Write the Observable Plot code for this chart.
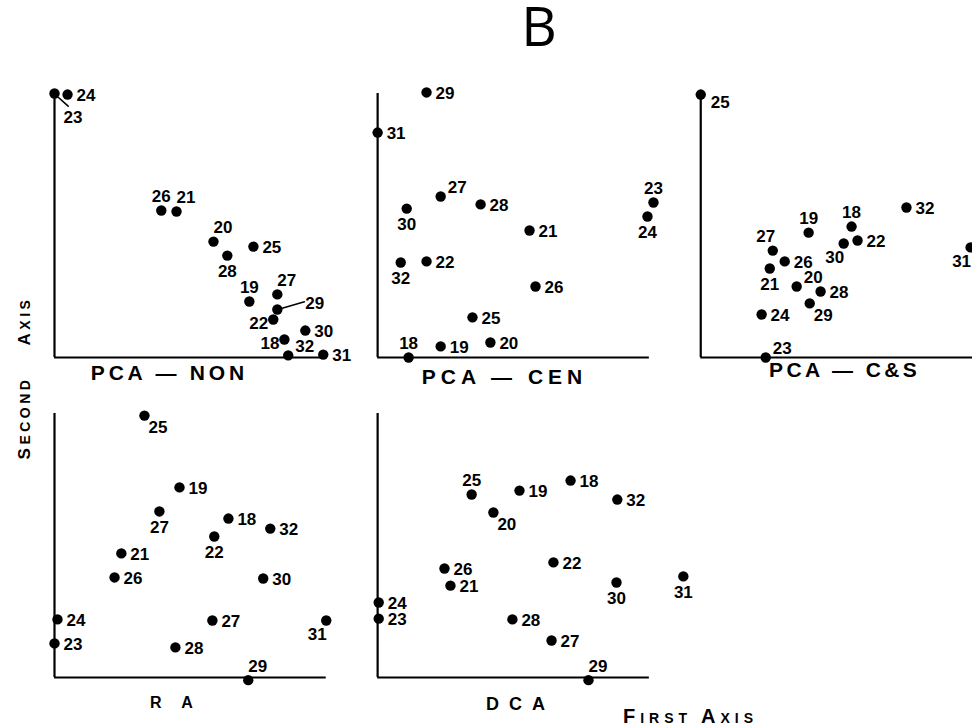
<!DOCTYPE html>
<html><head><meta charset="utf-8">
<script src="https://cdn.jsdelivr.net/npm/d3@7"></script>
<script src="https://cdn.jsdelivr.net/npm/@observablehq/plot@0.6"></script>
<style>
body{margin:0;background:#fff}
svg{display:block}
</style>
</head><body><div id="chart"></div>
<script>
// Panels
const panelNames = ["PCA \u2014 NON", "PCA \u2014 CEN", "PCA \u2014 C&S", "R A", "DCA"];
const panelCols = [0, 1, 2, 0, 1];
const panelRows = [0, 0, 0, 1, 1];
const panelYTop = [101, 100, 100, 100, 100];
const panelXEnd = [100, 100, 112, 100, 100];

// Sample scores [sample id, first axis, second axis] (axis origin = 0, panel extent = 100)
const pcaNon = [["23",0,100],["24",4.8,99.6],["26",39.3,55.7],["21",44.9,55.3],["20",58.5,43.9],["28",63.6,38.6],["25",73.2,42.0],["19",71.7,21.2],["27",82.0,23.9],["29",82.0,18.2],["22",80.5,14.4],["30",92.3,10.2],["18",84.6,6.8],["32",86.0,0.8],["31",98.9,1.1]];
const pcaCen = [["29",18.0,100.4],["31",0,85.2],["27",23.2,61.0],["30",10.7,56.4],["28",37.9,58.0],["21",55.9,48.1],["23",101.5,58.7],["24",99.3,53.4],["32",8.5,36.0],["22",18.0,36.4],["26",58.1,26.9],["25",34.9,15.2],["20",41.5,5.7],["19",23.2,4.2],["18",11.4,0]];
const pcaCS = [["25",0,99.6],["32",75.7,56.8],["18",55.5,49.6],["19",39.7,47.3],["22",57.7,44.3],["30",52.6,43.2],["31",99.3,41.7],["27",26.5,40.5],["26",30.9,36.4],["21",25.4,33.7],["20",35.3,26.9],["28",44.1,25.0],["29",40.1,20.5],["24",22.4,16.3],["23",23.9,0]];
const ra = [["25",33.1,99.2],["19",46.0,72.0],["27",38.6,62.9],["18",64.0,60.2],["32",79.4,56.4],["22",58.8,53.4],["21",24.6,47.0],["26",22.1,37.9],["30",76.8,37.5],["24",1.1,22.0],["27",58.1,21.6],["31",100,21.6],["23",0,12.9],["28",44.5,11.4],["29",71.3,-1]];
const dca = [["18",71.0,74.6],["19",52.2,70.8],["25",34.6,69.3],["32",88.2,67.4],["20",42.6,62.5],["22",64.7,43.6],["26",24.6,41.3],["31",112.5,38.3],["30",87.9,36.0],["21",26.8,34.8],["24",0.4,28.4],["23",0.4,22.3],["28",49.6,22.0],["27",64.0,14.0],["29",77.6,-1]];

// Label placement codes (one per sample, same order)
const pcaNonSide = ["bb","r","a","ar","ar","b","r","a","ar","far","l","r","l","ur","r"];
const pcaCenSide = ["r","r","ur","b","r","r","a","b","b","r","r","r","r","r","a"];
const pcaCSSide  = ["dr","r","a","a","r","bl","bl","al","r","b","ur","r","br","r","ur"];
const raSide     = ["br","r","b","r","r","b","r","r","r","r","r","bl","r","r","ar"];
const dcaSide    = ["r","r","a","r","br","r","r","b","b","r","r","r","r","r","ar"];

const allData = [pcaNon, pcaCen, pcaCS, ra, dca];
const allSides = [pcaNonSide, pcaCenSide, pcaCSSide, raSide, dcaSide];

const sideStyle = {
  r:  {textAnchor:"start",  dx: 9,  dy: 1},
  a:  {textAnchor:"middle", dx: 0,  dy:-14},
  b:  {textAnchor:"middle", dx: 0,  dy: 16},
  ar: {textAnchor:"start",  dx: 0,  dy:-14},
  ur: {textAnchor:"start",  dx: 7,  dy:-9},
  br: {textAnchor:"start",  dx: 4,  dy: 12},
  dr: {textAnchor:"start",  dx: 10, dy: 8},
  l:  {textAnchor:"end",    dx:-5,  dy: 4},
  bl: {textAnchor:"middle", dx:-9,  dy: 14},
  al: {textAnchor:"middle", dx:-7,  dy:-14},
  bb: {textAnchor:"start",  dx: 9,  dy: 24},
  far:{textAnchor:"start",  dx: 28, dy:-6}
};

const panels = panelNames.map((name, i) => ({name, col: panelCols[i], row: panelRows[i], yTop: panelYTop[i], xEnd: panelXEnd[i]}));
const points = allData.flatMap((arr, i) => arr.map(([id, x, y], j) => ({
  panel: panelNames[i], col: panelCols[i], row: panelRows[i], id, x, y, side: allSides[i][j]
})));

// Leader lines from a point to its label
const leaders = [
  {panel: 0, id: "23", length: 13, rotate: 132, dx: 4, dy: 4},
  {panel: 0, id: "29", length: 24, rotate: 74, dx: 4, dy: -1}
];
const titleStyle = [
  {dx:-21, dy:16, size:21, spacing:3.8},
  {dx:-9,  dy:20, size:21, spacing:5},
  {dx: 8,  dy:13, size:21, spacing:3.4},
  {dx:-15, dy:25, size:16, spacing:8},
  {dx: 7,  dy:27, size:18, spacing:10}
];

const lineShape = {draw(context, l) { context.moveTo(0, 0); context.lineTo(0, -l); }};

const marks = [
  Plot.ruleX(panels, {fx:"col", fy:"row", x: 0, y1: 0, y2: "yTop", strokeWidth: 2.2, stroke: "black"}),
  Plot.ruleY(panels, {fx:"col", fy:"row", y: 0, x1: 0, x2: "xEnd", strokeWidth: 2.2, stroke: "black"}),
  Plot.dot(points, {fx:"col", fy:"row", x:"x", y:"y", r: 5.2, fill: "black", stroke: "none"})
];
for (const [code, st] of Object.entries(sideStyle)) {
  marks.push(Plot.text(points.filter(d => d.side === code), {
    fx:"col", fy:"row", x:"x", y:"y", text:"id",
    textAnchor: st.textAnchor, dx: st.dx, dy: st.dy,
    fontSize: 17, fontWeight: "bold", fill: "black"
  }));
}
for (const ld of leaders) {
  const p = points.find(d => d.panel === panelNames[ld.panel] && d.id === ld.id);
  marks.push(Plot.vector([p], {
    fx:"col", fy:"row", x:"x", y:"y", length: ld.length, rotate: ld.rotate,
    anchor: "start", shape: lineShape, dx: ld.dx, dy: ld.dy, stroke: "black", strokeWidth: 1.6
  }));
}
panels.forEach((p, i) => {
  const o = titleStyle[i];
  marks.push(Plot.text([p], {
    fx:"col", fy:"row", text:"name", frameAnchor:"bottom", lineAnchor:"middle",
    dx: o.dx, dy: o.dy, fontSize: o.size, fontWeight: "bold", fill: "black"
  }));
});

const chart = Plot.plot({
  width: 972, height: 727,
  marginTop: 93, marginBottom: 50, marginLeft: 54, marginRight: 0,
  style: {fontFamily: "'Liberation Sans', Arial, sans-serif", background: "white", overflow: "visible"},
  x: {domain: [0, 100], axis: null},
  y: {domain: [0, 100], axis: null},
  fx: {domain: [0, 1, 2], axis: null, paddingInner: 0.159, paddingOuter: 0, round: false},
  fy: {domain: [0, 1], axis: null, paddingInner: 0.175, paddingOuter: 0, round: false},
  marks
});
document.getElementById("chart").appendChild(chart);

// Letter spacing of the panel titles
const svg = d3.select(chart);
panelNames.forEach((name, i) => {
  svg.selectAll("text").filter(function() { return this.textContent === name; })
    .attr("letter-spacing", titleStyle[i].spacing);
});

// Annotations
const ff = "'Liberation Sans', Arial, sans-serif";
svg.append("text").attr("x", 539).attr("y", 46).attr("text-anchor", "middle")
  .attr("font-family", "'Open Sans', Lato, sans-serif").attr("font-weight", 400)
  .attr("font-size", 55).attr("fill", "black").text("B");

function smallCaps(sel, word, big, small) {
  sel.append("tspan").attr("font-size", big).text(word[0]);
  sel.append("tspan").attr("font-size", small).text(word.slice(1));
}
const second = svg.append("text").attr("transform", "translate(30,418) rotate(-90)")
  .attr("text-anchor", "middle").attr("font-family", ff).attr("font-weight", "bold")
  .attr("letter-spacing", 3.5).attr("fill", "black");
smallCaps(second, "SECOND", 17, 14);
const axisY = svg.append("text").attr("transform", "translate(30,321) rotate(-90)")
  .attr("text-anchor", "middle").attr("font-family", ff).attr("font-weight", "bold")
  .attr("letter-spacing", 3.5).attr("fill", "black");
smallCaps(axisY, "AXIS", 17, 14);

const first = svg.append("text").attr("x", 623).attr("y", 723).attr("text-anchor", "start")
  .attr("font-family", ff).attr("font-weight", "bold").attr("letter-spacing", 5).attr("fill", "black");
smallCaps(first, "FIRST", 20, 14);
first.append("tspan").attr("font-size", 14).text(" ");
smallCaps(first, "AXIS", 20, 14);
</script>
</body></html>
